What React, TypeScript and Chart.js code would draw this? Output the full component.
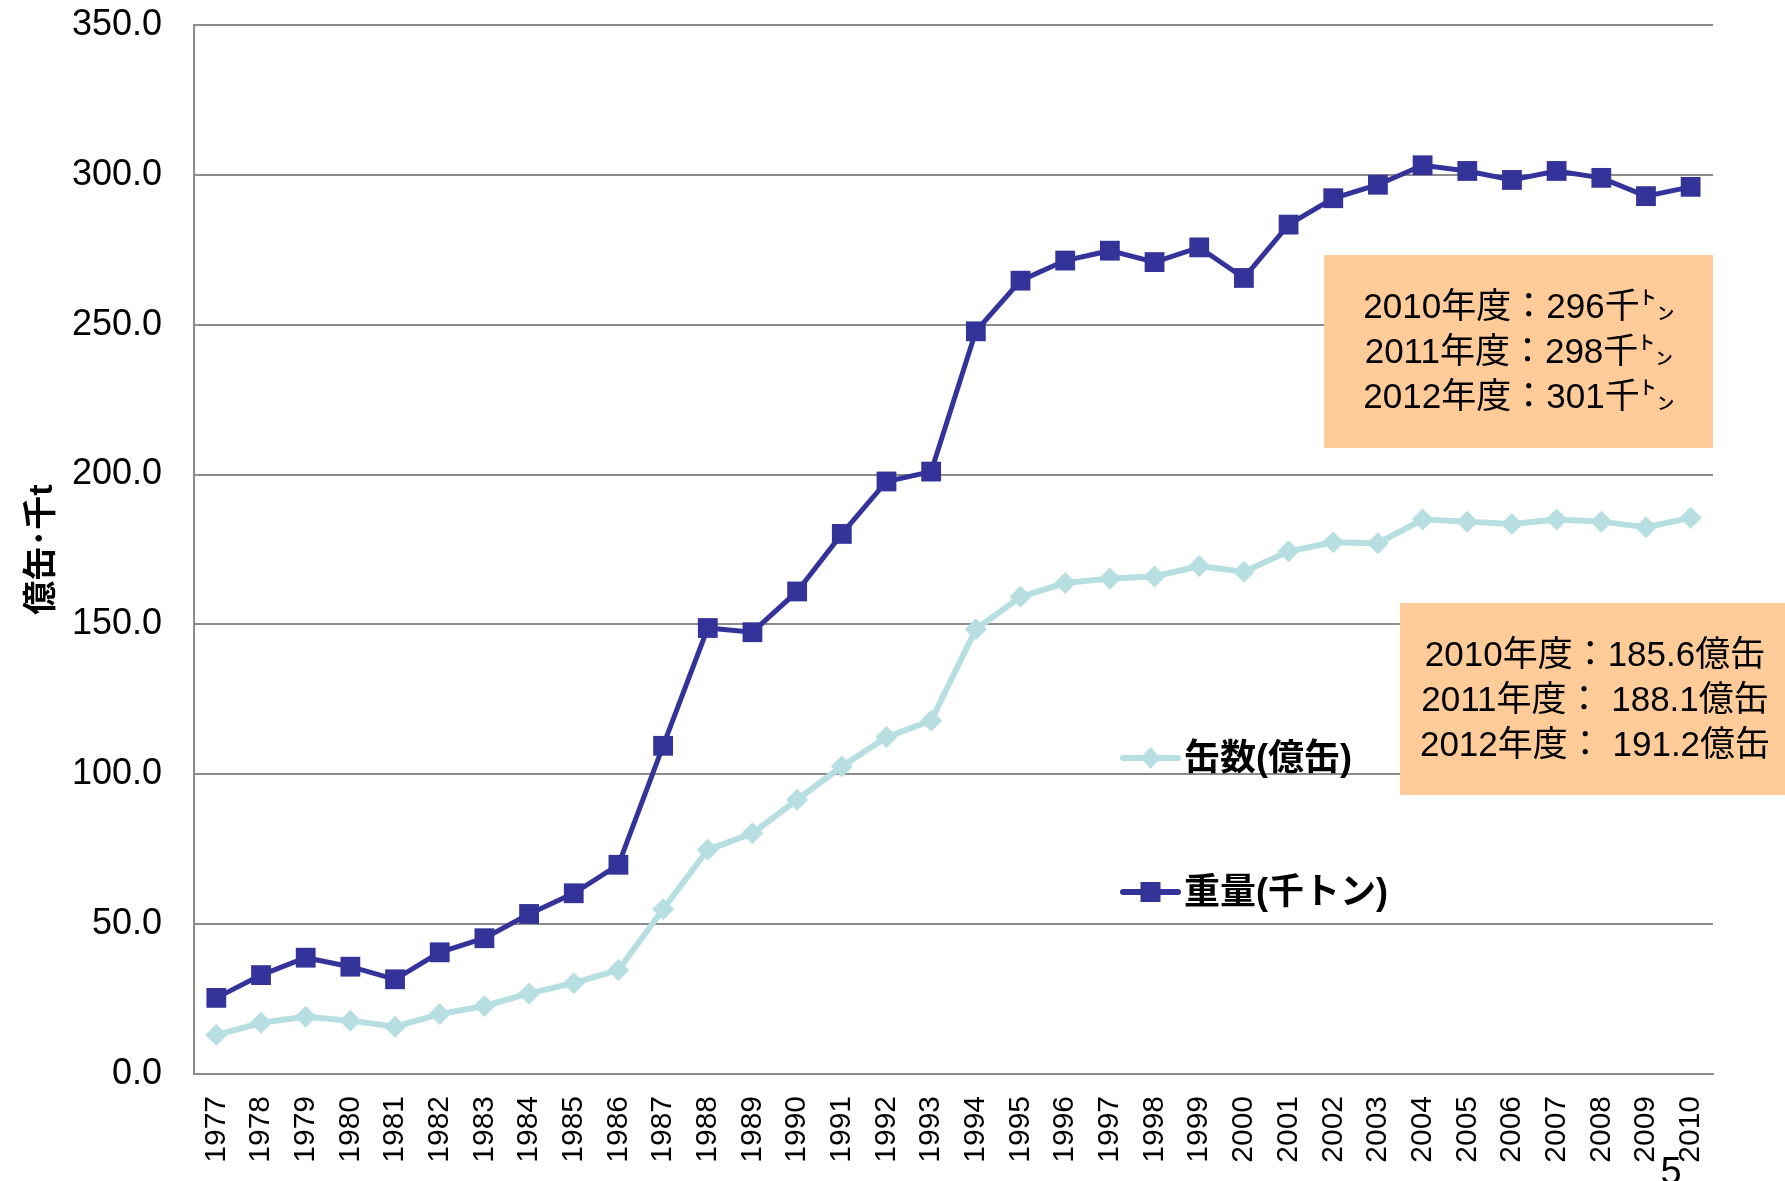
import React, { useEffect, useRef } from "react";
import { Chart, registerables } from "chart.js";

Chart.register(...registerables);

const years = [
  "1977", "1978", "1979", "1980", "1981", "1982", "1983", "1984", "1985", "1986",
  "1987", "1988", "1989", "1990", "1991", "1992", "1993", "1994", "1995", "1996",
  "1997", "1998", "1999", "2000", "2001", "2002", "2003", "2004", "2005", "2006",
  "2007", "2008", "2009", "2010",
];

// 缶数(億缶)
const cansData = [
  13.0, 17.1, 19.1, 17.8, 15.8, 20.0, 22.7, 26.9, 30.3, 34.7,
  55.0, 74.8, 80.3, 91.5, 102.6, 112.4, 117.9, 148.4, 159.2, 163.8,
  165.3, 166.0, 169.5, 167.6, 174.4, 177.4, 177.1, 185.0, 184.3, 183.5,
  185.0, 184.3, 182.4, 185.6,
];

// 重量(千トン)
const weightData = [
  25.4, 33.0, 38.8, 35.8, 31.6, 40.6, 45.3, 53.4, 60.3, 69.8,
  109.5, 148.8, 147.4, 161.0, 180.2, 197.7, 201.0, 247.8, 264.7, 271.4,
  274.7, 270.9, 275.8, 265.6, 283.4, 292.2, 296.7, 303.2, 301.3, 298.3,
  301.3, 299.0, 292.9, 296.0,
];

const yMin = 0;
const yMax = 350;
const yStep = 50;

const seriesLabels = ["缶数(億缶)", "重量(千トン)"];
const yAxisTitle = "億缶･千t";
const weightNotes = ["2010年度：296千㌧", "2011年度：298千㌧", "2012年度：301千㌧"];
const cansNotes = ["2010年度：185.6億缶", "2011年度： 188.1億缶", "2012年度： 191.2億缶"];
const pageNumber = "5";

const CANS_COLOR = "#B7DFE2";
const WEIGHT_COLOR = "#333399";
const GRID_COLOR = "#8C8C8C";
const NOTE_FILL = "#FFCC99";
const LATIN = "'Liberation Sans', Arial, 'Noto Sans CJK JP', sans-serif";
const CJK = "'Liberation Sans', 'Noto Sans CJK JP', sans-serif";

const overlayPlugin = {
  id: "overlay",
  afterDatasetsDraw(chart: any) {
    const ctx = chart.ctx as CanvasRenderingContext2D;
    const area = chart.chartArea;
    ctx.save();

    // note boxes
    const drawBox = (x: number, y: number, w: number, h: number, lines: string[], cx: number, ys: number[]) => {
      ctx.fillStyle = NOTE_FILL;
      ctx.fillRect(x, y, w, h);
      ctx.fillStyle = "#000";
      ctx.font = `35px ${CJK}`;
      ctx.textAlign = "center";
      ctx.textBaseline = "middle";
      lines.forEach((t, i) => ctx.fillText(t, cx, ys[i]));
    };
    drawBox(area.right - 389, 255, 389, 193, weightNotes, area.right - 194, [308, 353, 398]);
    drawBox(1400, 603, chart.width - 1400, 192, cansNotes, 1595, [656, 701, 746]);

    // legend
    const legendX1 = 1123;
    const legendX2 = 1178;
    const mid = (legendX1 + legendX2) / 2;
    const rows = [
      { y: 758, color: CANS_COLOR, shape: "diamond", label: seriesLabels[0] },
      { y: 892, color: WEIGHT_COLOR, shape: "square", label: seriesLabels[1] },
    ];
    rows.forEach((r) => {
      ctx.strokeStyle = r.color;
      ctx.lineWidth = 6;
      ctx.lineCap = "round";
      ctx.beginPath();
      ctx.moveTo(legendX1, r.y);
      ctx.lineTo(legendX2, r.y);
      ctx.stroke();
      ctx.fillStyle = r.color;
      ctx.beginPath();
      if (r.shape === "diamond") {
        ctx.moveTo(mid, r.y - 11);
        ctx.lineTo(mid + 10, r.y);
        ctx.lineTo(mid, r.y + 11);
        ctx.lineTo(mid - 10, r.y);
        ctx.closePath();
      } else {
        ctx.rect(mid - 10, r.y - 10, 20, 20);
      }
      ctx.fill();
      ctx.fillStyle = "#000";
      ctx.font = `bold 36px ${CJK}`;
      ctx.textAlign = "left";
      ctx.textBaseline = "middle";
      ctx.fillText(r.label, 1184, r.y + 2);
    });

    // page number
    ctx.fillStyle = "#000";
    ctx.font = `38px ${LATIN}`;
    ctx.textAlign = "center";
    ctx.textBaseline = "alphabetic";
    ctx.fillText(pageNumber, 1671, 1184);
    ctx.restore();
  },
};

export default function App() {
  const canvasRef = useRef<HTMLCanvasElement | null>(null);

  useEffect(() => {
    if (!canvasRef.current) return;
    const chart = new Chart(canvasRef.current, {
      type: "line",
      data: {
        labels: years,
        datasets: [
          {
            label: seriesLabels[0],
            data: cansData,
            borderColor: CANS_COLOR,
            backgroundColor: CANS_COLOR,
            borderWidth: 6,
            pointStyle: "rectRot",
            pointRadius: 11,
            pointBorderWidth: 0,
            tension: 0,
          },
          {
            label: seriesLabels[1],
            data: weightData,
            borderColor: WEIGHT_COLOR,
            backgroundColor: WEIGHT_COLOR,
            borderWidth: 5,
            pointStyle: "rect",
            pointRadius: 14,
            pointBorderWidth: 0,
            tension: 0,
          },
        ],
      },
      options: {
        responsive: false,
        animation: false,
        layout: { padding: { top: 25, right: 72, left: 0, bottom: 0 } },
        plugins: {
          legend: { display: false },
          tooltip: { enabled: false },
        },
        scales: {
          x: {
            type: "category",
            offset: true,
            grid: { display: false, drawTicks: false },
            border: { display: true, color: GRID_COLOR, width: 2 },
            ticks: {
              autoSkip: false,
              maxRotation: 90,
              minRotation: 90,
              padding: 22,
              color: "#000",
              font: { family: LATIN, size: 30 },
            },
            afterFit: (scale: any) => {
              scale.height = 107;
            },
          },
          y: {
            min: yMin,
            max: yMax,
            grid: {
              color: GRID_COLOR,
              lineWidth: 2,
              drawTicks: true,
              tickLength: 32,
              tickColor: "rgba(0,0,0,0)",
            },
            border: { display: true, color: GRID_COLOR, width: 2 },
            ticks: {
              stepSize: yStep,
              padding: 0,
              color: "#000",
              font: { family: LATIN, size: 36 },
              callback: (v: any) => Number(v).toFixed(1),
            },
            title: {
              display: true,
              text: yAxisTitle,
              color: "#000",
              font: { family: CJK, size: 34, weight: "bold" },
              padding: { top: 22, bottom: 0 },
            },
            afterFit: (scale: any) => {
              scale.width = 194;
            },
          },
        },
      },
      plugins: [overlayPlugin],
    });
    return () => chart.destroy();
  }, []);

  return (
    <div style={{ position: "fixed", left: 0, top: 0, width: 1785, height: 1181, background: "#fff" }}>
      <canvas ref={canvasRef} width={1785} height={1181} style={{ display: "block" }} />
    </div>
  );
}
